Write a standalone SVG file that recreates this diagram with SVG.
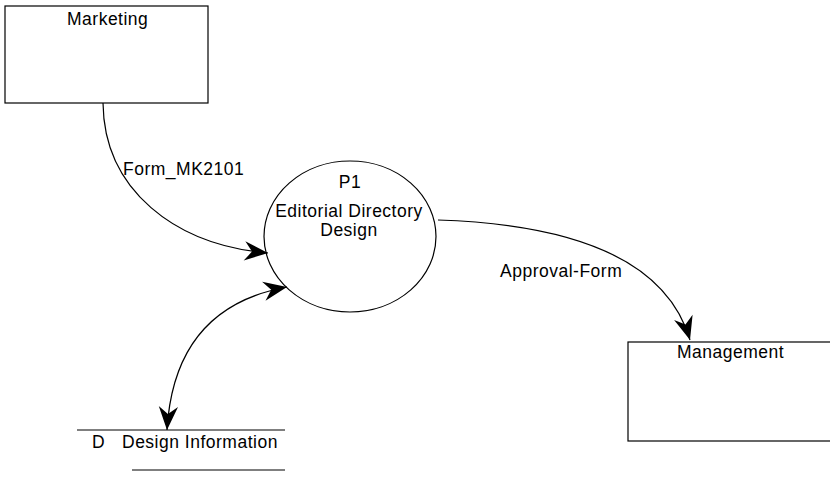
<svg xmlns="http://www.w3.org/2000/svg" width="830" height="480" viewBox="0 0 830 480">
<style>
.box{fill:#fff;stroke:#000;stroke-width:1.2}
.lbl{font-family:"Liberation Sans",Arial,sans-serif;font-size:17.5px;letter-spacing:0.5px;fill:#000}
.flow{fill:none;stroke:#000;stroke-width:1.2}
.store{stroke:#000;stroke-width:1.2}
</style>
<defs>
<marker id="ah" markerUnits="userSpaceOnUse" markerWidth="30" markerHeight="30" viewBox="-24 -12 28 24" refX="0" refY="0" orient="auto-start-reverse">
<path d="M0,0 L-22,-9 L-15,0 L-22,9 Z" fill="#000"/>
</marker>
</defs>
<rect width="830" height="480" fill="#fff"/>
<g id="marketing">
<rect class="box" x="5" y="6" width="203" height="97"/>
<text class="lbl" x="67" y="25">Marketing</text>
</g>
<g id="p1">
<ellipse class="box" cx="350" cy="236.5" rx="86" ry="75.5"/>
<text class="lbl" x="350" y="188" text-anchor="middle">P1</text>
<text class="lbl" x="349" y="217" text-anchor="middle">Editorial Directory</text>
<text class="lbl" x="349" y="236" text-anchor="middle">Design</text>
</g>
<g id="management">
<rect class="box" x="628" y="342" width="215" height="99"/>
<text class="lbl" x="677" y="358">Management</text>
</g>
<g id="design-information">
<line class="store" x1="77" y1="430" x2="285" y2="430"/>
<line class="store" x1="132" y1="470" x2="285" y2="470"/>
<text class="lbl" x="92" y="448">D</text>
<text class="lbl" x="122" y="448">Design Information</text>
</g>
<g id="connectors">
<path class="flow" d="M103,103 C104,190 175,245 268,253" marker-end="url(#ah)"/>
<text class="lbl" x="123" y="175">Form_MK2101</text>
<path class="flow" d="M167,430 C172,345 215,300 287,287" marker-start="url(#ah)" marker-end="url(#ah)"/>
<path class="flow" d="M438,220 C565,224 665,255 690,340" marker-end="url(#ah)"/>
<text class="lbl" x="500" y="277">Approval-Form</text>
</g>
</svg>
